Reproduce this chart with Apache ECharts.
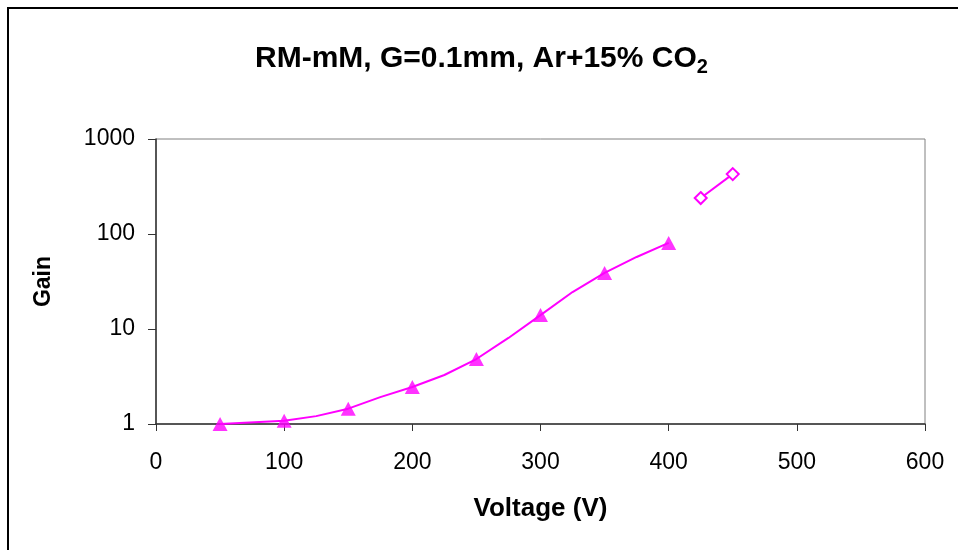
<!DOCTYPE html>
<html>
<head>
<meta charset="utf-8">
<script src="https://cdn.jsdelivr.net/npm/echarts@6/dist/echarts.min.js"></script>
<style>
    html, body { margin: 0; padding: 0; background: #fff; }
    #chart { width: 958px; height: 550px; }
</style>
</head>
<body>
<div id="chart"></div>
<script>
// measured curve (every 25 V where the line bends)
var voltage = [50, 100, 125, 150, 175, 200, 225, 250, 275, 300, 325, 350, 375, 400];
var gain = [1.0, 1.08, 1.21, 1.45, 1.92, 2.45, 3.28, 4.83, 8.05, 14.0, 24.5, 38.9, 57.3, 80.5];

// extra points drawn with open diamonds
var extVoltage = [425, 450];
var extGain = [239, 427];

var magenta = '#ff00ff';

var lineData = [];
var triData = [];
for (var i = 0; i < voltage.length; i++) {
    lineData.push([voltage[i], gain[i]]);
    // triangles only on the 50 V steps
    if (voltage[i] % 50 == 0)
        triData.push([voltage[i], gain[i]]);
}

var extData = [];
for (var j = 0; j < extVoltage.length; j++) {
    extData.push([extVoltage[j], extGain[j]]);
}

var myChart = echarts.init(document.getElementById('chart'));

var option = {
    backgroundColor: '#fff',
    animation: false,
    title: {
        text: 'RM-mM, G=0.1mm, Ar+15% CO{sub|2}',
        left: 250,
        top: 36,
        textStyle: {
            fontFamily: 'Liberation Sans',
            fontWeight: 'bold',
            fontSize: 30,
            color: '#000',
            rich: {
                sub: {
                    fontFamily: 'Liberation Sans',
                    fontWeight: 'bold',
                    fontSize: 20,
                    color: '#000',
                    verticalAlign: 'bottom',
                    padding: [16, 0, 0, 0]
                }
            }
        }
    },
    graphic: [{
        type: 'rect',
        shape: { x: 8, y: 8, width: 1000, height: 600 },
        style: { fill: 'none', stroke: '#000', lineWidth: 2 },
        silent: true
    }],
    grid: {
        left: 156,
        right: 33,
        top: 139,
        bottom: 126,
        show: true,
        borderColor: '#808080',
        borderWidth: 1
    },
    xAxis: {
        type: 'value',
        min: 0,
        max: 600,
        interval: 100,
        name: 'Voltage (V)',
        nameLocation: 'middle',
        nameGap: 72,
        nameTextStyle: {
            fontFamily: 'Liberation Sans',
            fontWeight: 'bold',
            fontSize: 26,
            color: '#000'
        },
        axisLine: { lineStyle: { color: '#333', width: 1.5 } },
        axisTick: { show: true, inside: false, length: 7, lineStyle: { color: '#333' } },
        axisLabel: {
            margin: 27,
            fontFamily: 'Liberation Sans',
            fontSize: 23,
            color: '#000'
        },
        splitLine: { show: false }
    },
    yAxis: {
        type: 'log',
        logBase: 10,
        min: 1,
        max: 1000,
        name: 'Gain',
        nameLocation: 'middle',
        nameGap: 101,
        nameTextStyle: {
            fontFamily: 'Liberation Sans',
            fontWeight: 'bold',
            fontSize: 23,
            color: '#000'
        },
        axisLine: { show: true, lineStyle: { color: '#333', width: 1.5 } },
        axisTick: { show: true, inside: false, length: 8, lineStyle: { color: '#333' } },
        axisLabel: {
            margin: 21,
            fontFamily: 'Liberation Sans',
            fontSize: 23,
            color: '#000',
            formatter: function(val) {
                return String(Math.round(val));
            }
        },
        splitLine: { show: false }
    },
    series: [{
        name: 'curve',
        type: 'line',
        data: lineData,
        showSymbol: false,
        symbol: 'none',
        lineStyle: { color: magenta, width: 2 },
        z: 2
    }, {
        name: 'points',
        type: 'scatter',
        data: triData,
        symbol: 'triangle',
        symbolSize: [15, 14],
        itemStyle: { color: magenta },
        z: 3
    }, {
        name: 'extra',
        type: 'line',
        data: extData,
        symbol: 'diamond',
        symbolSize: 12,
        showSymbol: true,
        lineStyle: { color: magenta, width: 2 },
        itemStyle: { color: '#fff', borderColor: magenta, borderWidth: 2 },
        z: 3
    }]
};

myChart.setOption(option);
</script>
</body>
</html>
